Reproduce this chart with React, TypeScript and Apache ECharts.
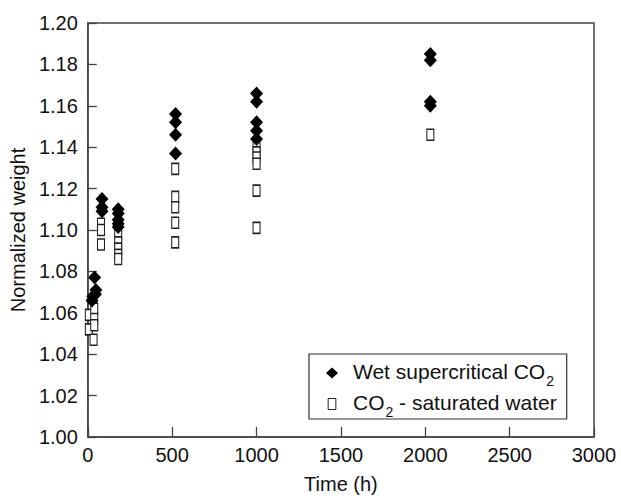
import React, { useEffect, useRef } from "react";
import * as echarts from "echarts";

const wetSupercriticalCO2: [number, number][] = [
  [25, 1.066], [30, 1.068], [45, 1.069], [48, 1.071], [40, 1.077],
  [84, 1.109], [84, 1.111], [84, 1.115],
  [180, 1.1015], [180, 1.103], [180, 1.105], [180, 1.108], [180, 1.110],
  [520, 1.137], [520, 1.146], [520, 1.152], [520, 1.156],
  [1000, 1.144], [1000, 1.148], [1000, 1.152], [1000, 1.162], [1000, 1.166],
  [2030, 1.160], [2030, 1.162], [2030, 1.182], [2030, 1.185],
];

const co2SaturatedWater: [number, number][] = [
  [6, 1.059], [6, 1.052], [38, 1.062], [38, 1.057], [38, 1.054], [34, 1.047],
  [78, 1.103], [78, 1.100], [78, 1.093],
  [180, 1.098], [180, 1.094], [180, 1.091], [180, 1.088], [180, 1.086],
  [518, 1.1295], [518, 1.116], [518, 1.111], [518, 1.1035], [518, 1.094],
  [1000, 1.1405], [1000, 1.1375], [1000, 1.135], [1000, 1.132], [1000, 1.119], [1000, 1.101],
  [2030, 1.146],
];

const seriesNames = ["Wet supercritical CO2", "CO2 - saturated water"];
const legendLabels = [
  "{a|Wet supercritical CO}{s|2}",
  "{a|CO}{s|2}{a| - saturated water}",
];

const FONT = "Liberation Sans, Arial, Helvetica, sans-serif";

export default function App() {
  const ref = useRef<HTMLDivElement>(null);
  useEffect(() => {
    if (!ref.current) return;
    const chart = echarts.init(ref.current, undefined, { renderer: "svg" });
    chart.setOption({
      animation: false,
      backgroundColor: "#ffffff",
      grid: {
        left: 85,
        right: 27,
        top: 23,
        bottom: 54,
        show: true,
        borderColor: "#444",
        borderWidth: 1.5,
        backgroundColor: "transparent",
      },
      xAxis: {
        type: "value",
        min: 0,
        max: 3000,
        interval: 500,
        name: "Time (h)",
        nameLocation: "middle",
        nameGap: 37,
        nameTextStyle: { fontSize: 20, color: "#111", fontFamily: FONT },
        axisLine: { show: true, lineStyle: { color: "#444", width: 1.5 } },
        axisTick: { show: true, inside: true, length: 10, lineStyle: { color: "#444", width: 1.3 } },
        axisLabel: {
          fontSize: 20,
          color: "#111",
          fontFamily: FONT,
          margin: 8,
          formatter: (v: number) => String(v),
        },
        splitLine: { show: false },
      },
      yAxis: {
        type: "value",
        min: 1.0,
        max: 1.2,
        interval: 0.02,
        name: "Normalized weight",
        nameLocation: "middle",
        nameGap: 57,
        nameTextStyle: { fontSize: 20, color: "#111", fontFamily: FONT },
        axisLine: { show: true, lineStyle: { color: "#444", width: 1.5 } },
        axisTick: { show: true, inside: true, length: 9, lineStyle: { color: "#444", width: 1.3 } },
        axisLabel: {
          fontSize: 20,
          color: "#111",
          fontFamily: FONT,
          margin: 10,
          formatter: (v: number) => v.toFixed(2),
        },
        splitLine: { show: false },
      },
      legend: {
        orient: "vertical",
        left: 309,
        top: 354,
        data: [
          { name: seriesNames[0], icon: "diamond", itemStyle: { color: "#000", borderWidth: 0, opacity: 1 } },
          { name: seriesNames[1], icon: "path://M0,0h7v10h-7z", itemStyle: { color: "#fff", borderColor: "#222", borderWidth: 1, opacity: 1 } },
        ],
        itemWidth: 12,
        itemHeight: 11,
        itemGap: 4,
        padding: [7, 10, 0, 17],
        borderColor: "#333",
        borderWidth: 1.2,
        backgroundColor: "#fff",
        formatter: (name: string) => legendLabels[seriesNames.indexOf(name)],
        textStyle: {
          fontFamily: FONT,
          color: "#111",
          padding: [0, 0, 0, 10],
          rich: {
            a: { fontSize: 21, lineHeight: 24, verticalAlign: "top", fontFamily: FONT, color: "#111" },
            s: { fontSize: 14, lineHeight: 14, verticalAlign: "top", padding: [13, 0, 0, 1], fontFamily: FONT, color: "#111" },
          },
        },
      },
      series: [
        {
          name: seriesNames[0],
          type: "scatter",
          data: wetSupercriticalCO2,
          symbol: "diamond",
          symbolSize: [13, 14],
          itemStyle: { color: "#000", borderWidth: 0, opacity: 1 },
          z: 3,
        },
        {
          name: seriesNames[1],
          type: "scatter",
          data: co2SaturatedWater,
          symbol: "rect",
          symbolSize: [7, 11],
          itemStyle: { color: "#fff", borderColor: "#222", borderWidth: 1.3, opacity: 1 },
          z: 2,
        },
      ],
    });
    return () => chart.dispose();
  }, []);
  return (
    <div
      ref={ref}
      style={{ position: "fixed", left: 0, top: 0, width: 621, height: 499, background: "#fff" }}
    />
  );
}
